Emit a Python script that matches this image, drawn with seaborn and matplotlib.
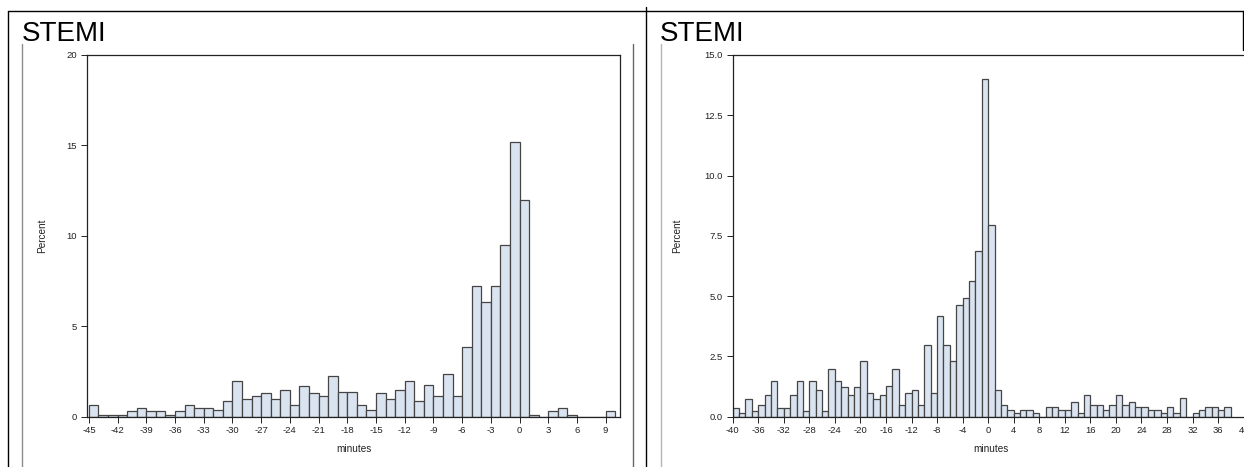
import numpy as np
import pandas as pd
import seaborn as sns
import matplotlib.pyplot as plt
from matplotlib.lines import Line2D

# left panel: percent per 1-minute bin, bins start at -45
left_minutes = list(range(-45, 10))
left_pct = [0.61, 0.11, 0.11, 0.11, 0.33, 0.48, 0.33, 0.33, 0.11, 0.28,
            0.61, 0.48, 0.48, 0.35, 0.85, 1.98, 0.98, 1.11, 1.29, 0.98,
            1.48, 0.61, 1.66, 1.29, 1.11, 2.23, 1.35, 1.35, 0.61, 0.37,
            1.29, 0.98, 1.48, 1.99, 0.85, 1.72, 1.11, 2.36, 1.11, 3.84,
            7.22, 6.33, 7.22, 9.47, 15.2, 11.97, 0.09, 0.0, 0.33, 0.48,
            0.09, 0.0, 0.0, 0.0, 0.28]
left_xticks = list(range(-45, 10, 3))
left_yticks = [0, 5, 10, 15, 20]

# right panel: bins start at -40
right_minutes = list(range(-40, 38))
right_pct = [0.37, 0.15, 0.74, 0.23, 0.46, 0.89, 1.48, 0.37, 0.37, 0.89,
             1.48, 0.23, 1.48, 1.11, 0.23, 1.98, 1.48, 1.24, 0.89, 1.24,
             2.32, 0.97, 0.74, 0.89, 1.26, 1.98, 0.46, 0.97, 1.11, 0.46,
             2.95, 0.97, 4.17, 2.97, 2.32, 4.63, 4.91, 5.63, 6.86, 14.0,
             7.96, 1.12, 0.48, 0.26, 0.14, 0.25, 0.25, 0.14, 0.0, 0.38,
             0.38, 0.25, 0.25, 0.61, 0.15, 0.89, 0.48, 0.48, 0.25, 0.48,
             0.89, 0.48, 0.61, 0.38, 0.38, 0.25, 0.25, 0.14, 0.38, 0.15,
             0.75, 0.0, 0.15, 0.25, 0.38, 0.38, 0.25, 0.38]
right_xticks = list(range(-40, 41, 4))
right_yticks = [0, 2.5, 5, 7.5, 10, 12.5, 15]

title = "STEMI"

sns.set_style("white")
plt.rcParams['font.family'] = ['Liberation Sans', 'DejaVu Sans']
plt.rcParams['axes.unicode_minus'] = False
plt.rcParams['text.color'] = 'black'
plt.rcParams['axes.labelcolor'] = '#222222'

W, H = 1244, 467
fig = plt.figure(figsize=(W / 100, H / 100), dpi=100)


def px(x0, y0, x1, y1):
    # pixel box (from top-left) -> figure fraction rect
    return [x0 / W, 1 - y1 / H, (x1 - x0) / W, (y1 - y0) / H]


fill = "#dae3f0"
edge = "#454545"


def draw_hist(ax, minutes, pct, xlim, xticks, yticks, ylim, yfmt):
    df = pd.DataFrame({"minutes": np.array(minutes) + 0.5, "pct": pct})
    sns.histplot(data=df, x="minutes", weights="pct", binwidth=1,
                 binrange=(minutes[0], minutes[-1] + 1), ax=ax,
                 color=fill, alpha=1, edgecolor=edge, linewidth=0.9)
    ax.set_xlim(*xlim)
    ax.set_ylim(*ylim)
    ax.set_xticks(xticks)
    ax.set_yticks(yticks)
    ax.set_yticklabels([yfmt.format(v) for v in yticks])
    ax.tick_params(axis="both", direction="out", length=4, width=0.7,
                   labelsize=6.8, colors="#222222", pad=3,
                   bottom=True, left=True)
    ax.set_xlabel("minutes", fontsize=7.2, labelpad=6)
    ax.set_ylabel("Percent", fontsize=7.2, labelpad=14)
    for s in ax.spines.values():
        s.set_color("#222222")
        s.set_linewidth(0.9)
        s.set_visible(True)


ax1 = fig.add_axes(px(87, 55, 620, 416.5))
draw_hist(ax1, left_minutes, left_pct, (-45.2, 10.5), left_xticks,
          left_yticks, (0, 20), "{:g}")

ax2 = fig.add_axes(px(732.7, 55, 1250, 416.5))
draw_hist(ax2, right_minutes, right_pct, (-40, 41), right_xticks,
          right_yticks, (0, 15), "{:.1f}")
ax2.set_ylabel("Percent", fontsize=7.2, labelpad=16)


# panel frames
def fline(x0, y0, x1, y1, color="black", lw=1.0):
    fig.add_artist(Line2D([x0 / W, x1 / W], [1 - y0 / H, 1 - y1 / H],
                          transform=fig.transFigure, color=color, lw=lw))


fline(8, 11, W, 11)
fline(8, 11, 8, H)
fline(22, 44, 22, H, color="#8c8c8c")
fline(633, 44, 633, H, color="#666666")
fline(646, 7, 646, H)
fline(661, 44, 661, H, color="#b5b5b5")
fline(1243, 11, 1243, 50)

fig.text(22 / W, 1 - 41 / H, title, fontsize=20, ha="left", va="baseline",
         color="black")
fig.text(660 / W, 1 - 41 / H, title, fontsize=20, ha="left", va="baseline",
         color="black")

fig.savefig("out.png", dpi=100)
